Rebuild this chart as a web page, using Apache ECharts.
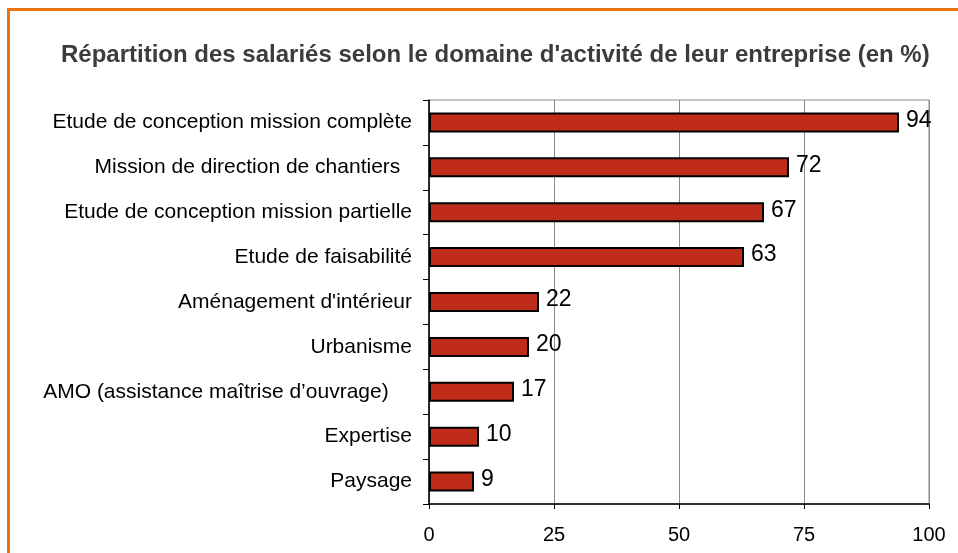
<!DOCTYPE html>
<html>
<head>
<meta charset="utf-8">
<script src="https://cdn.jsdelivr.net/npm/echarts@6/dist/echarts.min.js"></script>
<style>
    html, body { margin: 0; padding: 0; background: #fff; }
    #frame {
        position: absolute;
        left: 7px;
        top: 8px;
        width: 1000px;
        height: 600px;
        border: 3px solid #E8730F;
        box-sizing: border-box;
    }
    #chart { position: absolute; left: 0; top: 0; width: 958px; height: 553px; }
</style>
</head>
<body>
<div id="frame"></div>
<div id="chart"></div>
<script>
// domaines d'activité (du haut vers le bas)
const categories = [
    'Etude de conception mission complète',
    'Mission de direction de chantiers  ',
    'Etude de conception mission partielle',
    'Etude de faisabilité',
    'Aménagement d\'intérieur',
    'Urbanisme',
    'AMO (assistance maîtrise d’ouvrage)    ',
    'Expertise',
    'Paysage'
];
const values = [94, 72, 67, 63, 22, 20, 17, 10, 9];
const xTicks = [0, 25, 50, 75, 100];

const chart = echarts.init(document.getElementById('chart'), null, { renderer: 'canvas' });

const option = {
    backgroundColor: 'transparent',
    animation: false,
    title: {
        text: 'Répartition des salariés selon le domaine d\'activité de leur entreprise (en %)',
        left: 56,
        top: 38,
        textStyle: {
            fontFamily: 'Liberation Sans, Arial',
            fontSize: 24,
            fontWeight: 'bold',
            color: '#3c3c3c'
        }
    },
    grid: {
        left: 429,
        right: 29,
        top: 100,
        bottom: 49,
        show: true,
        borderColor: '#8a8a8a',
        borderWidth: 1
    },
    xAxis: {
        type: 'value',
        min: xTicks[0],
        max: xTicks[xTicks.length - 1],
        interval: 25,
        axisLine: { show: true, lineStyle: { color: '#000', width: 1.5 } },
        axisTick: { show: true, length: 5, lineStyle: { color: '#000' } },
        axisLabel: {
            margin: 21,
            fontFamily: 'Liberation Sans, Arial',
            fontSize: 20,
            color: '#000'
        },
        splitLine: { show: true, lineStyle: { color: '#8a8a8a', width: 1 } }
    },
    yAxis: {
        type: 'category',
        inverse: true,
        data: categories,
        axisLine: { show: true, lineStyle: { color: '#000', width: 1.5 } },
        axisTick: { show: true, length: 6, lineStyle: { color: '#000' } },
        axisLabel: {
            margin: 17,
            fontFamily: 'Liberation Sans, Arial',
            fontSize: 21,
            color: '#000'
        },
        splitLine: { show: false }
    },
    series: [
        {
            type: 'bar',
            data: values,
            barWidth: 20,
            itemStyle: {
                color: '#BF2D1A',
                borderColor: '#000',
                borderWidth: 2
            },
            label: {
                show: true,
                position: 'right',
                distance: 7,
                offset: [0, -2],
                fontFamily: 'Liberation Sans, Arial',
                fontSize: 23,
                color: '#000'
            }
        }
    ]
};

chart.setOption(option);
</script>
</body>
</html>
